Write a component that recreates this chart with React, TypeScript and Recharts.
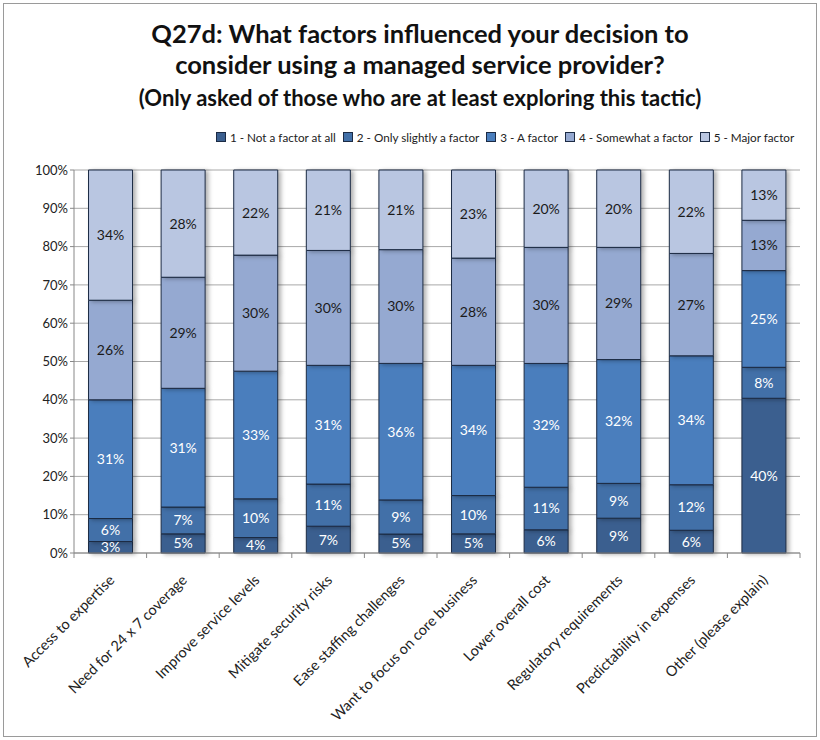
import { BarChart, Bar, XAxis, YAxis, CartesianGrid, LabelList } from 'recharts'

const categories = [
  'Access to expertise',
  'Need for 24 x 7 coverage',
  'Improve service levels',
  'Mitigate security risks',
  'Ease staffing challenges',
  'Want to focus on core business',
  'Lower overall cost',
  'Regulatory requirements',
  'Predictability in expenses',
  'Other (please explain)',
]

const notAFactor = [3, 5, 4, 7, 5, 5, 6, 9, 6, 40]
const onlySlightly = [6, 7, 10, 11, 9, 10, 11, 9, 12, 8]
const aFactor = [31, 31, 33, 31, 36, 34, 32, 32, 34, 25]
const somewhat = [26, 29, 30, 30, 30, 28, 30, 29, 27, 13]
const major = [34, 28, 22, 21, 21, 23, 20, 20, 22, 13]

const yTicks = [0, 0.1, 0.2, 0.3, 0.4, 0.5, 0.6, 0.7, 0.8, 0.9, 1]

const SERIES = [
  { key: 'notAFactor', name: '1 - Not a factor at all', color: '#3b5f8f', text: '#ffffff' },
  { key: 'onlySlightly', name: '2 - Only slightly a factor', color: '#4270a8', text: '#ffffff' },
  { key: 'aFactor', name: '3 - A factor', color: '#4a7ebd', text: '#ffffff' },
  { key: 'somewhat', name: '4 - Somewhat a factor', color: '#95a9d1', text: '#1a1a1a' },
  { key: 'major', name: '5 - Major factor', color: '#b9c6e1', text: '#1a1a1a' },
]

const data = categories.map((name, i) => ({
  name,
  notAFactor: notAFactor[i],
  onlySlightly: onlySlightly[i],
  aFactor: aFactor[i],
  somewhat: somewhat[i],
  major: major[i],
}))

const FONT = 'Lato, "Open Sans", sans-serif'

// category label rotated 45deg, plus tick marks on the band edges
function CategoryTick({ x, y, payload, index }: any) {
  const half = payload.offset || 0
  return (
    <g transform={`translate(${x},${y})`}>
      <line x1={half} y1={-8} x2={half} y2={-3} stroke="#888" />
      {index === 0 && <line x1={-half} y1={-8} x2={-half} y2={-3} stroke="#888" />}
      <text
        x={5}
        y={20}
        transform="rotate(-45 5 20)"
        textAnchor="end"
        fontSize={14.5}
        fill="#222"
        fontFamily={FONT}
      >
        {payload.value}
      </text>
    </g>
  )
}

export default function App() {
  return (
    <div style={{ position: 'absolute', left: 0, top: 0, width: 820, height: 740, background: '#fff' }}>
      <style>{`.recharts-bar-rectangles { filter: drop-shadow(3px 1px 2px rgba(0,0,0,0.3)); }`}</style>
      <div
        style={{
          position: 'absolute',
          left: 3,
          top: 3,
          width: 812,
          height: 732,
          border: '1px solid #9a9a9a',
        }}
      />
      <div
        style={{
          position: 'absolute',
          left: 0,
          top: 18,
          width: 840,
          textAlign: 'center',
          fontFamily: FONT,
          fontWeight: 700,
          color: '#111',
          whiteSpace: 'nowrap',
        }}
      >
        <div style={{ fontSize: 25.5, lineHeight: '31px' }}>Q27d: What factors influenced your decision to</div>
        <div style={{ fontSize: 25.5, lineHeight: '31px' }}>consider using a managed service provider?</div>
        <div style={{ fontSize: 22, lineHeight: '36px' }}>
          (Only asked of those who are at least exploring this tactic)
        </div>
      </div>
      <div
        style={{
          position: 'absolute',
          left: 216,
          top: 130,
          display: 'flex',
          gap: 7,
          fontFamily: FONT,
          fontSize: 11.7,
          color: '#222',
          whiteSpace: 'nowrap',
        }}
      >
        {SERIES.map((s) => (
          <span key={s.key} style={{ display: 'flex', alignItems: 'center' }}>
            <span
              style={{
                display: 'inline-block',
                width: 8,
                height: 8,
                background: s.color,
                border: '1px solid #1c2b44',
                marginRight: 4,
              }}
            />
            {s.name}
          </span>
        ))}
      </div>
      <div style={{ position: 'absolute', left: 0, top: 0 }}>
        <BarChart
          width={820}
          height={740}
          data={data}
          stackOffset="expand"
          barCategoryGap="20%"
          margin={{ top: 170, right: 20, bottom: 0, left: 14 }}
        >
          <CartesianGrid vertical={false} stroke="#a8a8a8" />
          <XAxis
            dataKey="name"
            interval={0}
            stroke="#888"
            tickLine={false}
            tick={<CategoryTick />}
            height={187}
          />
          <YAxis
            ticks={yTicks}
            interval={0}
            domain={[0, 1]}
            width={60}
            stroke="#888"
            tickSize={4}
            tick={{ fontSize: 13, fill: '#222', fontFamily: FONT }}
            tickFormatter={(v: number) => `${Math.round(v * 100)}%`}
          />
          {SERIES.map((s) => (
            <Bar
              key={s.key}
              dataKey={s.key}
              name={s.name}
              stackId="a"
              fill={s.color}
              stroke="#1c2b44"
              strokeWidth={1}
              isAnimationActive={false}
            >
              <LabelList
                dataKey={s.key}
                position="center"
                formatter={(v: any) => `${v}%`}
                fill={s.text}
                fontSize={14}
                fontFamily={FONT}
              />
            </Bar>
          ))}
        </BarChart>
      </div>
    </div>
  )
}
